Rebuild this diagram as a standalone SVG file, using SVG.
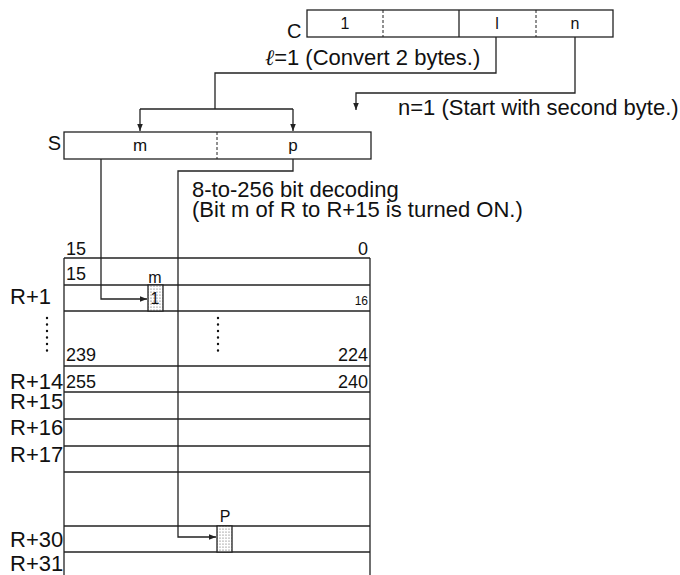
<svg xmlns="http://www.w3.org/2000/svg" width="680" height="575" viewBox="0 0 680 575">
<style>
text{font-family:"Liberation Sans",Arial,sans-serif;fill:#111}
.big{font-size:22px}
.lab{font-size:20px}
.num{font-size:18px}
.mid{font-size:17px}
.sm{font-size:16px}
.xs{font-size:12px}
.box{fill:#fff;stroke:#222;stroke-width:1.3}
.dash{stroke:#222;stroke-width:1;stroke-dasharray:3 2;fill:none}
.line{stroke:#222;stroke-width:1.3;fill:none}
.con{stroke:#222;stroke-width:1.3;fill:none}
.dots{stroke:#111;stroke-width:2.4;stroke-linecap:round;stroke-dasharray:0 6.5;fill:none}
.e{text-anchor:end}
.m{text-anchor:middle}
</style>
<defs>
<marker id="ah" viewBox="0 0 10 10" refX="10" refY="5" markerWidth="7" markerHeight="7" markerUnits="userSpaceOnUse" orient="auto">
<path d="M0,1 L10,5 L0,9 Z" fill="#222"/>
</marker>
<pattern id="dotp" width="3" height="3" patternUnits="userSpaceOnUse">
<rect width="3" height="3" fill="#fff"/>
<circle cx="1" cy="1" r="0.6" fill="#555"/>
</pattern>
</defs>

<g id="C">
<rect class="box" x="307" y="10" width="306" height="27"/>
<line class="line" x1="459" y1="10" x2="459" y2="37"/>
<line class="dash" x1="383" y1="10" x2="383" y2="37"/>
<line class="dash" x1="536" y1="10" x2="536" y2="37"/>
<text class="lab" x="287" y="38">C</text>
<text class="sm m" x="345" y="29">1</text>
<text class="sm m" x="497" y="29">l</text>
<text class="sm m" x="575" y="29">n</text>
</g>

<g id="S">
<rect class="box" x="64" y="132" width="307" height="27"/>
<line class="dash" x1="217" y1="132" x2="217" y2="159"/>
<text class="lab e" x="61" y="150">S</text>
<text class="mid m" x="140" y="151">m</text>
<text class="mid m" x="293" y="151">p</text>
</g>

<g id="labels">
<text class="big" x="265" y="65"><tspan font-family="'DejaVu Serif',serif" font-style="italic">ℓ</tspan>=1 (Convert 2 bytes.)</text>
<text class="big" x="398" y="115">n=1 (Start with second byte.)</text>
<text class="big" x="192" y="197">8-to-256 bit decoding</text>
<text class="big" x="192" y="217">(Bit m of R to R+15 is turned ON.)</text>
</g>

<g id="R">
<line class="line" x1="64" y1="258" x2="64" y2="575"/>
<line class="line" x1="370" y1="258" x2="370" y2="575"/>
<line class="line" x1="64" y1="258" x2="370" y2="258"/>
<line class="line" x1="64" y1="285" x2="370" y2="285"/>
<line class="line" x1="64" y1="311" x2="370" y2="311"/>
<line class="line" x1="64" y1="366" x2="370" y2="366"/>
<line class="line" x1="64" y1="392" x2="370" y2="392"/>
<line class="line" x1="64" y1="419" x2="370" y2="419"/>
<line class="line" x1="64" y1="446" x2="370" y2="446"/>
<line class="line" x1="64" y1="472" x2="370" y2="472"/>
<line class="line" x1="64" y1="526" x2="370" y2="526"/>
<line class="line" x1="64" y1="552" x2="370" y2="552"/>
<rect x="148" y="285" width="15" height="26" fill="url(#dotp)" stroke="#222" stroke-width="1.3"/>
<rect x="217" y="526" width="15" height="26" fill="url(#dotp)" stroke="#222" stroke-width="1.3"/>
<text class="num" x="66" y="255">15</text>
<text class="num e" x="368" y="255">0</text>
<text class="num" x="66" y="280">15</text>
<text class="sm m" x="155" y="283">m</text>
<text class="sm m" x="155" y="304">1</text>
<text class="xs e" x="368" y="305">16</text>
<text class="num" x="66" y="361">239</text>
<text class="num e" x="368" y="361">224</text>
<text class="num" x="66" y="388">255</text>
<text class="num e" x="368" y="388">240</text>
<text class="sm m" x="225" y="522">P</text>
<line class="dots" x1="47" y1="318" x2="47" y2="357"/>
<line class="dots" x1="218" y1="318" x2="218" y2="357"/>
<text class="big" x="10" y="304">R+1</text>
<text class="big" x="10" y="389">R+14</text>
<text class="big" x="10" y="409">R+15</text>
<text class="big" x="10" y="435">R+16</text>
<text class="big" x="10" y="462">R+17</text>
<text class="big" x="10" y="547">R+30</text>
<text class="big" x="10" y="571">R+31</text>
</g>

<g id="connectors">
<path class="con" d="M496,37 V73 H215 V109"/>
<path class="con" d="M140,109 H293"/>
<path class="con" d="M140,109 V131" marker-end="url(#ah)"/>
<path class="con" d="M293,109 V131" marker-end="url(#ah)"/>
<path class="con" d="M575,37 V93 H356 V110" marker-end="url(#ah)"/>
<path class="con" d="M101,159 V299 H147" marker-end="url(#ah)"/>
<path class="con" d="M293,159 V171 H178 V537 H216" marker-end="url(#ah)"/>
</g>
</svg>
